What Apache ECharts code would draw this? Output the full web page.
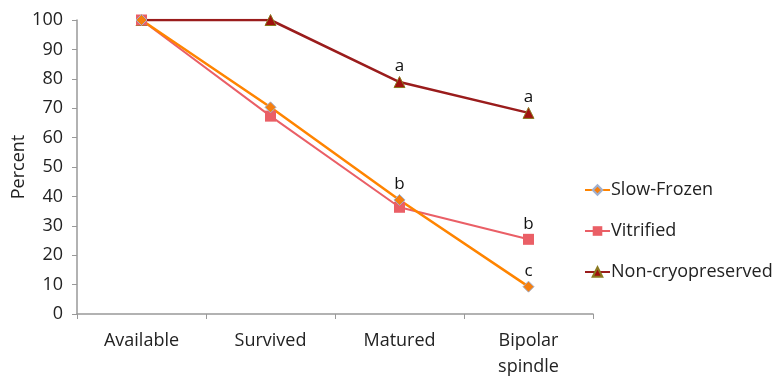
<!DOCTYPE html>
<html><head><meta charset="utf-8">
<script src="https://cdn.jsdelivr.net/npm/echarts@6/dist/echarts.min.js"></script>
<style>html,body{margin:0;padding:0;background:#fff}#c{width:784px;height:377px}</style>
</head><body><div id="c"></div>
<script>
const categories = ['Available', 'Survived', 'Matured', 'Bipolar\nspindle'];
const slowFrozen = [100, 70.3, 38.8, 9.3];
const vitrified = [100, 67.3, 36.3, 25.4];
const nonCryo = [100, 100, 78.9, 68.4];
const sigSlow = ['', '', 'b', 'c'];
const sigVit = ['', '', '', 'b'];
const sigNon = ['', '', 'a', 'a'];
const yTicks = [0, 10, 20, 30, 40, 50, 60, 70, 80, 90, 100];

const font = 'Open Sans';
function mk(name, data, sig, color, symbol, size, width, border) {
  return {
    name, type: 'line', data, symbol, symbolSize: size,
    lineStyle: { color, width },
    itemStyle: { color: border ? border.fill : color, borderColor: border ? border.stroke : color, borderWidth: border ? 1 : 0 },
    label: { show: true, position: 'top', distance: 1, color: '#111', fontSize: 17, fontFamily: font,
      formatter: p => sig[p.dataIndex] },
    emphasis: { disabled: true }, animation: false, z: 2
  };
}
const chart = echarts.init(document.getElementById('c'));
chart.setOption({
  animation: false,
  grid: { left: 77, right: 191, top: 20, bottom: 63, outerBoundsMode: 'none', containLabel: false },
  xAxis: {
    type: 'category', data: categories, boundaryGap: true,
    axisLine: { lineStyle: { color: '#999', width: 1.5 } },
    axisTick: { show: true, length: 5, lineStyle: { color: '#999' } },
    axisLabel: { color: '#222', fontSize: 18, fontFamily: font, margin: 14, lineHeight: 26 }
  },
  yAxis: {
    type: 'value', min: 0, max: 100, interval: 10,
    name: 'Percent', nameLocation: 'middle', nameGap: 49, nameRotate: 90, nameMoveOverlap: false,
    nameTextStyle: { color: '#222', fontSize: 18, fontFamily: font },
    axisLine: { show: true, lineStyle: { color: '#999', width: 1.5 } },
    axisTick: { show: true, length: 5, lineStyle: { color: '#999' } },
    splitLine: { show: false },
    axisLabel: { color: '#222', fontSize: 18, fontFamily: font, margin: 14,
      formatter: v => yTicks.includes(v) ? String(v) : '' }
  },
  legend: {
    orient: 'vertical', left: 579, top: 176, itemGap: 23, itemWidth: 25, itemHeight: 12,
    textStyle: { color: '#222', fontSize: 18, fontFamily: font, padding: [0, 0, 0, -4] },
    data: ['Slow-Frozen', 'Vitrified', 'Non-cryopreserved']
  },
  series: [
    mk('Non-cryopreserved', nonCryo, sigNon, '#9a1c1c', 'triangle', 11, 2.5, { fill: '#a0120f', stroke: '#8a7a20' }),
    mk('Vitrified', vitrified, sigVit, '#ea5f66', 'rect', 11, 2, null),
    mk('Slow-Frozen', slowFrozen, sigSlow, '#ff8400', 'diamond', 11, 2.5, { fill: '#f57f10', stroke: '#9fb0d0' })
  ]
});
</script></body></html>
